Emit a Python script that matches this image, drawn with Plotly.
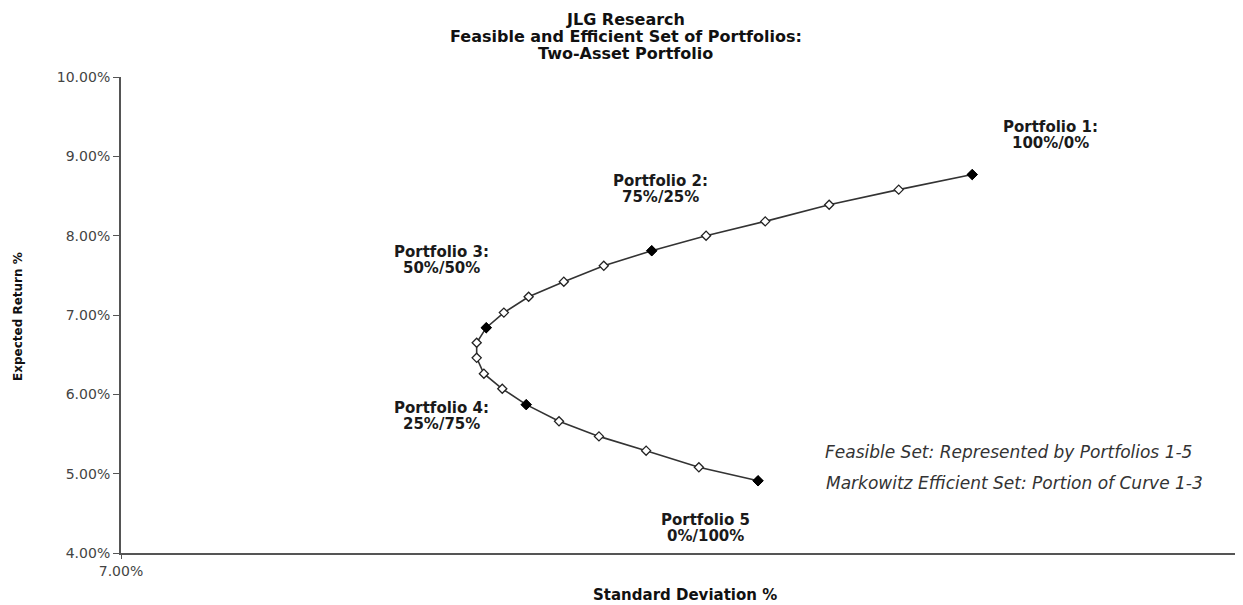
import plotly.graph_objects as go

# standard deviation (%) and expected return (%) of each mix, Portfolio 1 -> Portfolio 5
std_dev = [17.65, 16.73, 15.86, 15.06, 14.32, 13.64, 13.04, 12.54, 12.10, 11.79, 11.57,
           11.45, 11.45, 11.54, 11.77, 12.07, 12.48, 12.98, 13.57, 14.23, 14.97]
exp_return = [8.77, 8.58, 8.39, 8.18, 8.00, 7.81, 7.62, 7.42, 7.23, 7.03, 6.84,
              6.65, 6.46, 6.26, 6.07, 5.87, 5.66, 5.47, 5.29, 5.08, 4.91]
# which points are the named portfolios
key_index = [0, 5, 10, 15, 20]
key_names = ["Portfolio 1:", "Portfolio 2:", "Portfolio 3:", "Portfolio 4:", "Portfolio 5"]
key_mix = ["100%/0%", "75%/25%", "50%/50%", "25%/75%", "0%/100%"]
# label centre offsets (data units) from each named point
label_dx = [0.98, 0.11, -0.56, -1.06, -0.66]
label_dy = [0.50, 0.78, 0.85, -0.14, -0.60]

y_ticks = [4, 5, 6, 7, 8, 9, 10]

title_lines = ["JLG Research", "Feasible and Efficient Set of Portfolios:", "Two-Asset Portfolio"]
notes = ["Feasible Set: Represented by Portfolios 1-5",
         "Markowitz Efficient Set: Portion of Curve 1-3"]

FONT = "DejaVu Sans, Verdana, sans-serif"

fig = go.Figure()

fig.add_trace(go.Scatter(
    x=std_dev, y=exp_return, mode="lines+markers",
    line=dict(color="#333333", width=1.6),
    marker=dict(symbol="diamond", size=7, color="white",
                line=dict(color="#222222", width=1.3)),
    showlegend=False, cliponaxis=False,
))

fig.add_trace(go.Scatter(
    x=[std_dev[i] for i in key_index],
    y=[exp_return[i] for i in key_index],
    mode="markers",
    marker=dict(symbol="diamond", size=8, color="black",
                line=dict(color="black", width=1)),
    showlegend=False,
))

# portfolio labels, two lines each
for k, i in enumerate(key_index):
    cx = std_dev[i] + label_dx[k]
    cy = exp_return[i] + label_dy[k]
    for txt, off in [(key_names[k], 0.1), (key_mix[k], -0.1)]:
        fig.add_annotation(
            x=cx, y=cy + off, text=f"<b>{txt}</b>",
            showarrow=False, font=dict(family=FONT, size=15, color="#1a1a1a"),
        )

for txt, nx, ny in zip(notes, [18.10, 18.18], [5.27, 4.88]):
    fig.add_annotation(x=nx, y=ny, text=f"<i>{txt}</i>", showarrow=False,
                       font=dict(family=FONT, size=17, color="#333333"))

# chart title, one annotation per line
for txt, ty in zip(title_lines, [1.1218, 1.0861, 1.0504]):
    fig.add_annotation(xref="paper", yref="paper", x=0.451, y=ty, text=f"<b>{txt}</b>",
                       xanchor="center", yanchor="middle", showarrow=False,
                       font=dict(family=FONT, size=16, color="#111111"))

# axis titles
fig.add_annotation(xref="paper", yref="paper", x=0.504, y=-0.088,
                   xanchor="center", yanchor="middle",
                   text="<b>Standard Deviation %</b>", showarrow=False,
                   font=dict(family=FONT, size=15, color="#111111"))
fig.add_annotation(xref="paper", yref="paper", x=-0.092, y=0.496,
                   xanchor="center", yanchor="middle",
                   text="<b>Expected Return %</b>", showarrow=False, textangle=-90,
                   font=dict(family=FONT, size=12, color="#111111"))

# the page body adds an 8px margin, so the figure is sized 8px smaller
fig.update_layout(
    width=1235, height=597,
    margin=dict(l=113, r=3, t=69, b=52),
    paper_bgcolor="white", plot_bgcolor="white",
    xaxis=dict(
        range=[7, 21], tickvals=[7], ticktext=["7.00%"], automargin=False,
        showgrid=False, zeroline=False,
        showline=True, linecolor="#555555", linewidth=2,
        ticks="outside", ticklen=4, tickcolor="#555555", tickwidth=1,
        tickfont=dict(family=FONT, size=14, color="#444444"),
    ),
    yaxis=dict(
        range=[4, 10], tickvals=y_ticks, ticktext=[f"{v:.2f}%" for v in y_ticks],
        automargin=False, showgrid=False, zeroline=False,
        showline=True, linecolor="#555555", linewidth=2,
        ticks="outside", ticklen=6, tickcolor="#555555", tickwidth=1,
        tickfont=dict(family=FONT, size=14, color="#444444"),
    ),
)

fig.write_html("out.html")
